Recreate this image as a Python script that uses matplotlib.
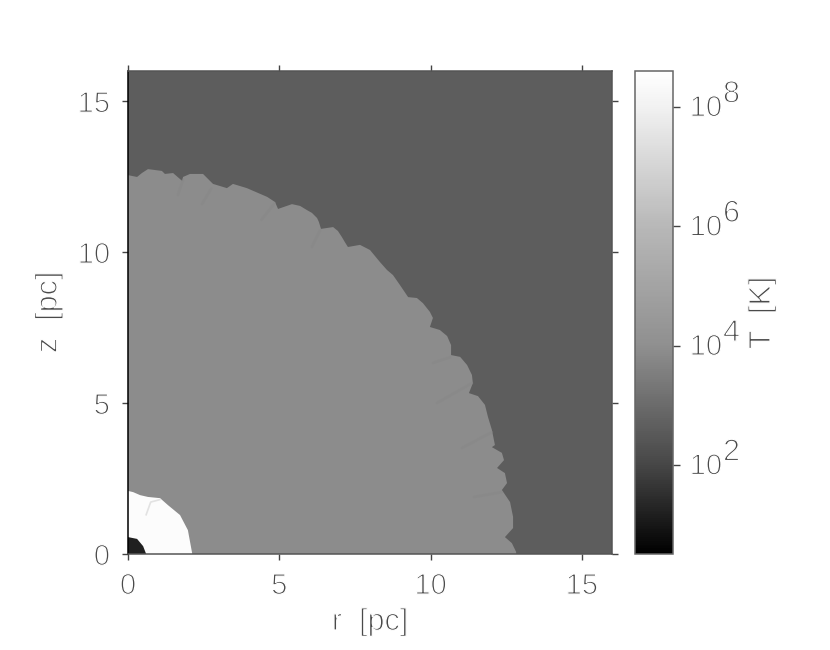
import matplotlib
matplotlib.use('Agg')
import matplotlib.pyplot as plt
import matplotlib.patheffects as pe
from matplotlib.cm import ScalarMappable
from matplotlib.colors import LinearSegmentedColormap, LogNorm

# Frentes, en pc
shell_r = [0, .30, .46, .66, 1.12, 1.22, 1.49, 1.79, 1.82, 2.05, 2.48, 2.81, 3.27, 3.47, 3.93, 4.60, 4.86, 4.96,
           5.42, 5.69, 5.92, 6.08, 6.25, 6.31, 6.38, 6.78, 6.94, 7.07, 7.17, 7.27, 7.67, 8.00, 8.33, 8.56, 8.76,
           8.99, 9.26, 9.55, 9.75, 9.98, 10.08, 9.98, 10.31, 10.55, 10.68, 10.68, 10.98, 11.21, 11.37, 11.40, 11.27,
           11.57, 11.80, 11.90, 12.03, 12.13, 12.03, 12.36, 12.43, 12.20, 12.46, 12.53, 12.36, 12.63, 12.73, 12.73,
           12.46, 12.69, 12.83, 12.83]
shell_z = [12.55, 12.49, 12.62, 12.75, 12.69, 12.59, 12.62, 12.36, 12.49, 12.59, 12.59, 12.26, 12.12, 12.26, 12.12,
           11.83, 11.66, 11.43, 11.59, 11.53, 11.39, 11.30, 11.13, 11.00, 10.77, 10.83, 10.70, 10.50, 10.33, 10.17,
           10.24, 10.07, 9.67, 9.41, 9.24, 8.91, 8.51, 8.48, 8.31, 8.02, 7.82, 7.52, 7.42, 7.22, 6.92, 6.59, 6.53,
           6.26, 5.93, 5.66, 5.33, 5.23, 4.94, 4.54, 4.11, 3.61, 3.54, 3.35, 3.11, 2.85, 2.68, 2.35, 2.12, 1.72, 1.23,
           .86, .56, .36, .07, 0]
hot_r = [0, .17, .40, .66, 1.06, 1.32, 1.72, 1.98, 2.12, 2.12]
hot_z = [2.09, 2.05, 1.95, 1.89, 1.85, 1.62, 1.29, .79, .03, 0]
cold_r = [0, .30, .50, .60]
cold_z = [.56, .50, .26, 0]

# Estrias tenues detras del frente (r0, r1, z0, z1)
streaks = [(10.65, 10.08, 6.52, 6.33), (11.37, 10.21, 5.66, 5.00), (12.03, 11.04, 4.04, 3.51),
           (12.36, 11.44, 2.05, 1.89), (6.35, 6.08, 10.72, 10.17), (4.85, 4.41, 11.62, 11.07),
           (1.82, 1.65, 12.40, 11.90), (2.75, 2.45, 12.10, 11.60)]
hot_streak_r = [.60, .75, 1.05]
hot_streak_z = [1.30, 1.72, 1.80]

# Temperaturas de cada zona, en K
T_ambient = 10 ** 2.6
T_shell = 10 ** 3.9
T_hot = 10 ** 8.45
T_cold = 16
T_min = 10 ** 0.51
T_max = 10 ** 8.6

axis_ticks = [0, 5, 10, 15]
cbar_exponents = [2, 4, 6, 8]

plt.rcParams['font.family'] = ['Liberation Sans', 'DejaVu Sans']
text_color = '#4a4a4a'
thin = [pe.Stroke(linewidth=.9, foreground='white')]
W, H = 830, 650

cmap = LinearSegmentedColormap.from_list('t_gray', [(0, '#000000'), (.185, '#474747'), (.43, '#8f8f8f'),
                                                    (.68, '#b8b8b8'), (.93, '#f2f2f2'), (1, '#ffffff')])
norm = LogNorm(T_min, T_max)

fig = plt.figure(figsize=(W / 100, H / 100), dpi=100)
ax = fig.add_axes([128 / W, 96 / H, 484 / W, 483 / H])
ax.set_facecolor(cmap(norm(T_ambient)))
ax.fill(list(shell_r) + [0], list(shell_z) + [0], color=cmap(norm(T_shell)), lw=0)
for r0, r1, z0, z1 in streaks:
    ax.plot([r0, r1], [z0, z1], color='#858585', lw=2, alpha=.35, solid_capstyle='round')
ax.fill(list(hot_r) + [0], list(hot_z) + [0], color=cmap(norm(T_hot)), lw=0)
ax.plot(hot_streak_r, hot_streak_z, color='#e2e2e2', lw=1.2)
ax.fill(list(cold_r) + [0], list(cold_z) + [0], color=cmap(norm(T_cold)), lw=0)

ax.set_xlim(0, 16)
ax.set_ylim(0, 16)
ax.set_xticks(axis_ticks)
ax.set_yticks(axis_ticks)
ax.tick_params(direction='out', length=4, width=1, color='#444444', top=True, right=True,
               labelsize=21, labelcolor=text_color, pad=9)
for label in ax.get_xticklabels() + ax.get_yticklabels():
    label.set_path_effects(thin)
for name, spine in ax.spines.items():
    spine.set_color('#000000' if name == 'left' else '#555555')
    spine.set_linewidth(1.1)
ax.set_xlabel('r  [pc]', fontsize=22, color=text_color, labelpad=5, path_effects=thin)
ax.set_ylabel('z  [pc]', fontsize=22, color=text_color, labelpad=10, path_effects=thin)

cax = fig.add_axes([635 / W, 96 / H, 38 / W, 483 / H])
cb = fig.colorbar(ScalarMappable(norm=norm, cmap=cmap), cax=cax)
cb.minorticks_off()
cb.set_ticks([10.0 ** e for e in cbar_exponents])
cb.set_ticklabels([])
cax.tick_params(direction='out', length=5, width=1, color='#444444')
cb.outline.set_edgecolor('#666666')
cb.outline.set_linewidth(1.1)
for e in cbar_exponents:
    cax.annotate('10', xy=(1, 10.0 ** e), xycoords=('axes fraction', 'data'), xytext=(12, -1),
                 textcoords='offset points', fontsize=21, color=text_color, va='center', ha='left',
                 path_effects=thin)
    cax.annotate(str(e), xy=(1, 10.0 ** e), xycoords=('axes fraction', 'data'), xytext=(36, 9),
                 textcoords='offset points', fontsize=22, color=text_color, va='center', ha='left',
                 path_effects=thin)
fig.text(762 / W, 1 - 313 / H, 'T  [K]', rotation=90, fontsize=22, color=text_color, ha='center', va='center',
         path_effects=thin)

fig.savefig('out.png', dpi=100)
